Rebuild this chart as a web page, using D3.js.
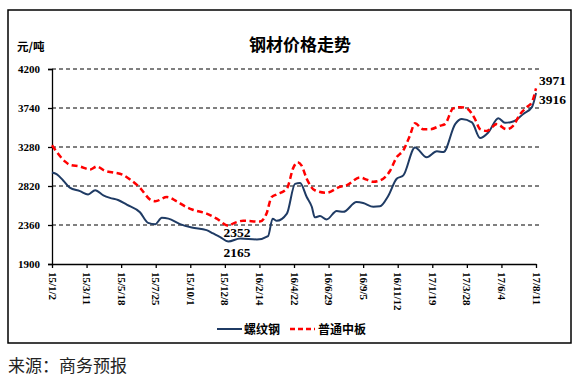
<!DOCTYPE html>
<html><head><meta charset="utf-8">
<script src="https://cdn.jsdelivr.net/npm/d3@7"></script>
<style>body{margin:0;background:#fff}svg{display:block}</style>
</head><body>
<svg id="c" width="578" height="383"></svg>
<script>
const yTicks = [1900, 2360, 2820, 3280, 3740, 4200];
const xTickLabels = ["15/1/2","15/3/11","15/5/18","15/7/25","15/10/1","15/12/8","16/2/14","16/4/22","16/6/29","16/9/5","16/11/12","17/1/19","17/3/28","17/6/4","17/8/11"];
const seriesNames = ["螺纹钢", "普通中板"];

const rebarDates = ["15/1/2","15/1/11","15/1/24","15/2/6","15/2/26","15/3/14","15/3/28","15/4/13","15/4/26","15/5/12","15/5/29","15/6/24","15/7/10","15/7/24","15/8/6","15/8/19","15/9/11","15/10/4","15/11/2","15/11/15","15/11/28","15/12/15","16/1/7","16/2/9","16/3/2","16/3/11","16/3/19","16/4/8","16/4/24","16/5/4","16/5/17","16/5/27","16/6/2","16/6/12","16/6/25","16/7/15","16/7/28","16/8/23","16/9/5","16/9/25","16/10/8","16/10/24","16/11/10","16/11/23","16/12/16","17/1/8","17/1/28","17/2/10","17/3/5","17/3/18","17/4/7","17/4/23","17/5/9","17/5/29","17/6/11","17/6/27","17/7/17","17/8/3","17/8/11"];
const rebarValues = [2980,2960,2885,2800,2760,2720,2770,2710,2680,2655,2600,2510,2385,2370,2445,2435,2370,2330,2300,2260,2220,2165,2200,2190,2230,2435,2410,2495,2845,2855,2690,2575,2450,2465,2425,2525,2515,2630,2620,2575,2580,2700,2905,2945,3275,3160,3230,3220,3550,3610,3570,3385,3450,3620,3565,3580,3670,3750,3916];

const plateDates = ["15/1/2","15/1/28","15/2/6","15/2/26","15/3/18","15/3/31","15/4/16","15/5/2","15/5/22","15/6/4","15/6/24","15/7/14","15/7/24","15/8/16","15/9/4","15/9/24","15/10/6","15/11/2","15/11/22","15/12/15","15/12/25","16/1/13","16/2/15","16/2/28","16/3/9","16/3/19","16/4/8","16/4/21","16/4/29","16/5/7","16/5/17","16/6/2","16/6/25","16/7/21","16/8/4","16/8/30","16/9/12","16/9/25","16/10/8","16/10/28","16/11/10","16/11/23","16/12/6","16/12/16","17/1/1","17/1/15","17/2/3","17/2/13","17/3/1","17/3/15","17/3/28","17/4/13","17/4/23","17/5/6","17/5/26","17/6/14","17/6/27","17/7/11","17/7/24","17/8/3","17/8/11"];
const plateValues = [3300,3108,3070,3050,3015,3050,3000,2980,2950,2900,2800,2660,2640,2690,2640,2570,2540,2495,2435,2352,2380,2410,2400,2495,2690,2720,2790,3040,3100,3060,2905,2770,2740,2810,2830,2920,2895,2870,2885,3000,3160,3240,3415,3560,3490,3490,3530,3550,3735,3750,3735,3610,3490,3470,3550,3490,3530,3670,3750,3810,3971];

const parse = d3.timeParse("%y/%m/%d");
const svg = d3.select("#c");
const serif = "'Liberation Serif','Times New Roman',serif";
const cjk = "'Noto Sans CJK SC','Noto Sans',sans-serif";

// frame
svg.append("rect").attr("x", 8).attr("y", 10).attr("width", 563).attr("height", 333)
  .attr("fill", "none").attr("stroke", "#000").attr("stroke-width", 1.5);

const x = d3.scaleTime().domain([parse("15/1/2"), parse("17/8/11")]).range([52, 536]);
const y = d3.scaleLinear().domain([1900, 4200]).range([264, 69]);

// grid
svg.append("g").selectAll("line").data(yTicks.slice(1)).join("line")
  .attr("x1", 52).attr("x2", 540).attr("y1", d => y(d)).attr("y2", d => y(d))
  .attr("stroke", "#000").attr("stroke-width", 1).attr("stroke-dasharray", "4,3");

// y axis
const yAxis = svg.append("g").attr("transform", "translate(52,0)")
  .call(d3.axisLeft(y).tickValues(yTicks).tickSize(4).tickPadding(8).tickFormat(d3.format("d")));
yAxis.select(".domain").attr("stroke", "#000").attr("stroke-width", 1.3);
yAxis.selectAll(".tick line").attr("stroke", "#000").attr("stroke-width", 1.3);
yAxis.selectAll("text").attr("font-family", serif).attr("font-weight", "bold").attr("font-size", 11).attr("fill", "#000");

// x axis
const xTickDates = xTickLabels.map(parse);
const xAxis = svg.append("g").attr("transform", "translate(0,264)")
  .call(d3.axisBottom(x).tickValues(xTickDates).tickSize(4).tickSizeOuter(0).tickFormat(d3.timeFormat("%y/%-m/%-d")));
xAxis.select(".domain").attr("stroke", "#000").attr("stroke-width", 1.3);
xAxis.selectAll(".tick line").attr("stroke", "#000").attr("stroke-width", 1.3);
xAxis.selectAll("text")
  .attr("font-family", serif).attr("font-weight", "bold").attr("font-size", 11).attr("fill", "#000")
  .attr("text-anchor", "start").attr("transform", "rotate(90)")
  .attr("x", 8).attr("y", 0).attr("dy", "0.35em");

const line = d3.line().x(d => x(d[0])).y(d => y(d[1])).curve(d3.curveMonotoneX);
const rebar = rebarDates.map((d, i) => [parse(d), rebarValues[i]]);
const plate = plateDates.map((d, i) => [parse(d), plateValues[i]]);

svg.append("path").datum(rebar).attr("d", line).attr("fill", "none")
  .attr("stroke", "#1f3b64").attr("stroke-width", 2);
svg.append("path").datum(plate).attr("d", line).attr("fill", "none")
  .attr("stroke", "#ff0000").attr("stroke-width", 2.5).attr("stroke-dasharray", "6,3.5");

// annotations
const ann = [
  [plate[plate.length-1][0], 3971, 3, 85],
  [rebar[rebar.length-1][0], 3916, 3, 104],
  [parse("15/12/15"), 2352, -5, 237],
  [parse("15/12/15"), 2165, -5, 257]
];
svg.append("g").selectAll("text").data(ann).join("text")
  .attr("x", d => x(d[0]) + d[2]).attr("y", d => d[3])
  .attr("font-family", serif).attr("font-weight", "bold").attr("font-size", 13.5).attr("fill", "#000")
  .text(d => d[1]);

// titles
svg.append("text").attr("x", 300).attr("y", 51).attr("text-anchor", "middle")
  .attr("font-family", cjk).attr("font-weight", "bold").attr("font-size", 17).text("钢材价格走势");
svg.append("text").attr("x", 17).attr("y", 51)
  .attr("font-family", cjk).attr("font-weight", "bold").attr("font-size", 11.5).text("元/吨");

// legend
const lg = svg.append("g");
lg.append("line").attr("x1", 217).attr("x2", 242).attr("y1", 329).attr("y2", 329)
  .attr("stroke", "#1f3b64").attr("stroke-width", 2);
lg.append("text").attr("x", 244).attr("y", 333.5).attr("font-family", cjk).attr("font-weight", "bold")
  .attr("font-size", 12).text(seriesNames[0]);
lg.append("line").attr("x1", 290).attr("x2", 315).attr("y1", 329).attr("y2", 329)
  .attr("stroke", "#ff0000").attr("stroke-width", 2.5).attr("stroke-dasharray", "5,3");
lg.append("text").attr("x", 318).attr("y", 333.5).attr("font-family", cjk).attr("font-weight", "bold")
  .attr("font-size", 12).text(seriesNames[1]);

// source
svg.append("text").attr("x", 8).attr("y", 372).attr("font-family", cjk)
  .attr("font-size", 17).attr("fill", "#222").text("来源：商务预报");
</script>
</body></html>
